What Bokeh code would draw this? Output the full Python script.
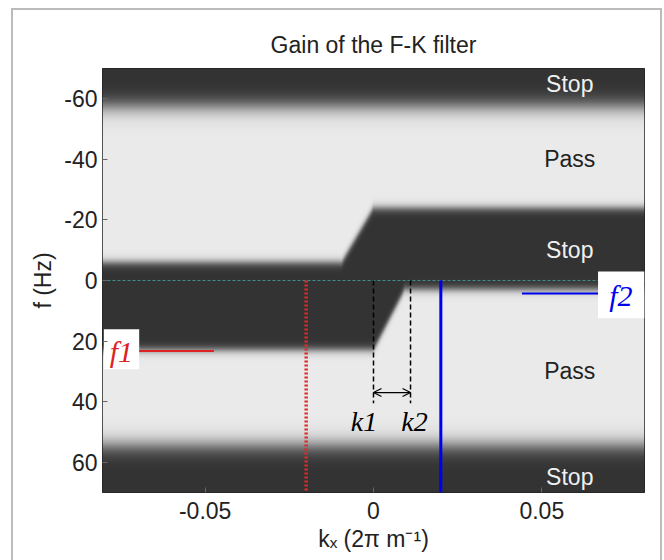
import numpy as np
from bokeh.plotting import figure
from bokeh.models import Range1d, FixedTicker, Arrow, OpenHead
from bokeh.core.properties import value
from bokeh.embed import file_html
from bokeh.resources import INLINE

# ---- data -------------------------------------------------------------
TITLE = "Gain of the F-K filter"
X_TICKS = [-0.05, 0, 0.05]
X_TICK_LABELS = ["-0.05", "0", "0.05"]
Y_TICKS = [-60, -40, -20, 0, 20, 40, 60]
Y_TICK_LABELS = ["-60", "-40", "-20", "0", "20", "40", "60"]

# outer stop bands (|f| large)
OUTER_TOP_F = -57.5
OUTER_BOT_F = 54.5
OUTER_SOFT = 1.8
# middle stop band edges (piecewise linear in k)
TOP_EDGE_K = [-0.081, -0.0095, 0.0, 0.081]
TOP_EDGE_F = [-6.0, -6.0, -24.0, -24.0]
BOT_EDGE_K = [-0.081, 0.0, 0.0093, 0.081]
BOT_EDGE_F = [23.0, 23.0, 3.0, 3.0]
MID_SOFT = 0.8

REGION_LABELS = ["Stop", "Pass", "Stop", "Pass", "Stop"]
REGION_F = [-65, -40, -10, 30, 65]
REGION_K = 0.0583

F1 = 23.3        # Hz
F2 = 4.3         # Hz
K_RED = -0.02
K_BLUE = 0.02
K1 = 0.0
K2 = 0.011

# ---- figure -----------------------------------------------------------
XMIN, XMAX = -0.0805, 0.0805
YMIN, YMAX = -70, 70

p = figure(width=664, height=560, x_range=Range1d(XMIN, XMAX), y_range=Range1d(YMAX, YMIN),
           output_backend="svg", toolbar_location=None, title=TITLE,
           min_border_left=102, min_border_right=20, min_border_top=68, min_border_bottom=68)
p.background_fill_color = "#333333"
p.border_fill_color = None
p.outline_line_color = "#222222"
p.grid.visible = False
p.styles = {
    "background-color": "white",
    "background-image": "linear-gradient(#bbbbbb,#bbbbbb), linear-gradient(#bbbbbb,#bbbbbb), "
                        "linear-gradient(#bbbbbb,#bbbbbb)",
    "background-size": "2px 560px, 650px 2px, 2px 560px",
    "background-position": "11px 8px, 11px 8px, 660px 8px",
    "background-repeat": "no-repeat",
}

p.title.text_font = "Liberation Sans"
p.title.text_font_size = "23px"
p.title.text_font_style = "normal"
p.title.align = "center"
p.title.text_color = "#222222"
p.title.standoff = 21

# ---- gain image -------------------------------------------------------
nx, ny = 542, 424
ks = np.linspace(XMIN, XMAX, nx)
fs = np.linspace(YMIN, YMAX, ny)
K, F = np.meshgrid(ks, fs)

def sig(z):
    return 1.0 / (1.0 + np.exp(-z))

outer = sig((F - OUTER_TOP_F) / OUTER_SOFT) * sig((OUTER_BOT_F - F) / OUTER_SOFT)
top = np.interp(ks, TOP_EDGE_K, TOP_EDGE_F)[None, :]
bot = np.interp(ks, BOT_EDGE_K, BOT_EDGE_F)[None, :]
mid = sig((F - top) / MID_SOFT) * sig((bot - F) / MID_SOFT)
gain = outer * (1 - mid)
DARK, LIGHT = 51, 235
shade = (DARK + gain * (LIGHT - DARK)).astype(np.uint8)
img = np.empty((ny, nx), dtype=np.uint32)
view = img.view(dtype=np.uint8).reshape((ny, nx, 4))
view[..., 0] = shade
view[..., 1] = shade
view[..., 2] = shade
view[..., 3] = 255
p.image_rgba(image=[img], x=XMIN, y=YMIN, dw=XMAX - XMIN, dh=YMAX - YMIN)

# ---- annotations ------------------------------------------------------
# f = 0 dotted line
p.line(x=[XMIN, XMAX], y=[0, 0], line_color="#3d8f8f", line_dash="3 2", line_width=1.2)

# red dotted vertical
p.line(x=[K_RED, K_RED], y=[0, YMAX], line_color="#e02a2a", line_dash="2 2", line_width=3.5)
# blue vertical
p.line(x=[K_BLUE, K_BLUE], y=[0, YMAX], line_color="#0000ee", line_width=3)

# k1/k2 dashed
for kk in (K1, K2):
    p.line(x=[kk, kk], y=[0, 40.5], line_color="black", line_dash="5 3", line_width=1.5)
p.add_layout(Arrow(start=OpenHead(size=8, line_width=1.2), end=OpenHead(size=8, line_width=1.2),
                   x_start=K1, y_start=37, x_end=K2, y_end=37, line_width=1.2))
p.text(x=[K1 - 0.0028, K2 + 0.0012], y=[46.7, 46.7], text=["k1", "k2"], text_font=value("Liberation Serif"),
       text_font_style="italic", text_font_size="28px", text_align="center", text_baseline="middle",
       text_color="black")

# f1 marker
p.quad(left=[-0.0801], right=[-0.0696], top=[16.1], bottom=[29.3], fill_color="white", line_color=None)
p.line(x=[-0.0696, -0.0474], y=[F1, F1], line_color="#dd2222", line_width=2)
p.text(x=[-0.0749], y=[23.5], text=["f1"], text_font=value("Liberation Serif"), text_font_style="italic",
       text_font_size="30px", text_align="center", text_baseline="middle", text_color="#dd2222")
# f2 marker
p.quad(left=[0.0667], right=[0.0805], top=[-3.0], bottom=[12.5], fill_color="white", line_color=None)
p.line(x=[0.0441, 0.0667], y=[F2, F2], line_color="#0000ee", line_width=2)
p.text(x=[0.0735], y=[4.8], text=["f2"], text_font=value("Liberation Serif"), text_font_style="italic",
       text_font_size="30px", text_align="center", text_baseline="middle", text_color="#0000ee")

# region labels
p.text(x=[REGION_K] * len(REGION_LABELS), y=REGION_F, text=REGION_LABELS,
       text_font=value("Liberation Sans"), text_font_size="23px", text_align="center",
       text_baseline="middle",
       text_color=["#f0f0f0" if t == "Stop" else "#222222" for t in REGION_LABELS])

# ---- axes -------------------------------------------------------------
for ax in (p.xaxis[0], p.yaxis[0]):
    ax.major_label_text_font = "Liberation Sans"
    ax.major_label_text_font_size = "23px"
    ax.major_label_text_color = "#222222"
    ax.axis_label_text_font = "Liberation Sans"
    ax.axis_label_text_font_size = "23px"
    ax.axis_label_text_font_style = "normal"
    ax.axis_label_text_color = "#222222"
    ax.axis_line_color = None
    ax.major_tick_in = 5
    ax.major_tick_out = 0
    ax.major_tick_line_color = "#666666"
    ax.minor_tick_line_color = None

p.xaxis[0].ticker = FixedTicker(ticks=X_TICKS)
p.xaxis[0].major_label_overrides = dict(zip(X_TICKS, X_TICK_LABELS))
p.xaxis[0].axis_label = "k\u2093 (2\u03c0 m\u207b\u00b9)"
p.xaxis[0].major_label_standoff = 9
p.xaxis[0].axis_label_standoff = 4

p.yaxis[0].ticker = FixedTicker(ticks=Y_TICKS)
p.yaxis[0].major_label_overrides = dict(zip(Y_TICKS, Y_TICK_LABELS))
p.yaxis[0].axis_label = "f (Hz)"
p.yaxis[0].major_label_standoff = 5
p.yaxis[0].axis_label_standoff = 5

open("out.html", "w").write(file_html(p, INLINE))
